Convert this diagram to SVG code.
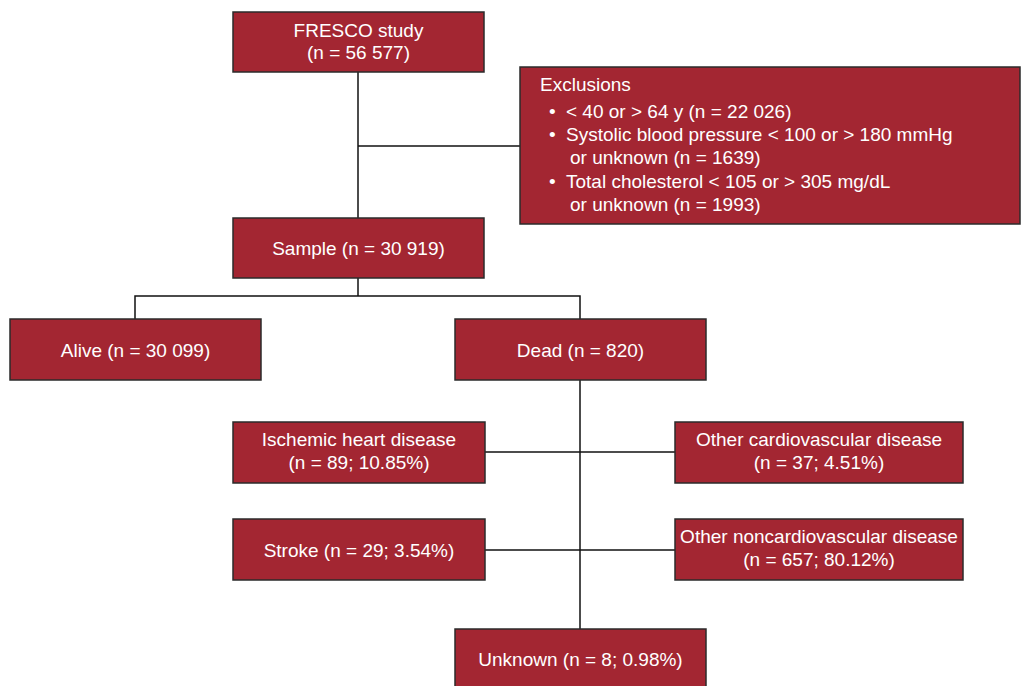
<svg xmlns="http://www.w3.org/2000/svg" width="1022" height="686" viewBox="0 0 1022 686">
<style>
.box{fill:#A32632;stroke:#2b2b2b;stroke-width:1.5}
.t{font-family:"Liberation Sans",Arial,sans-serif;font-size:19px;fill:#ffffff}
.c{text-anchor:middle}
.ln{stroke:#111;stroke-width:1.5;fill:none}
</style>
<rect width="1022" height="686" fill="#ffffff"/>
<g id="connectors">
<path class="ln" d="M358 72 V218"/>
<path class="ln" d="M358 146 H520"/>
<path class="ln" d="M358 278 V296"/>
<path class="ln" d="M135 319 V296 H580 V319"/>
<path class="ln" d="M580 380 V629"/>
<path class="ln" d="M485 452 H675"/>
<path class="ln" d="M485 550 H675"/>
</g>
<g id="fresco">
<rect class="box" x="233" y="12" width="251" height="60"/>
<text class="t c" x="358.5" y="37">FRESCO study</text>
<text class="t c" x="358.5" y="59">(n = 56 577)</text>
</g>
<g id="exclusions">
<rect class="box" x="520" y="67" width="500" height="157"/>
<text class="t" x="540" y="91">Exclusions</text>
<text class="t" x="549" y="118">•</text>
<text class="t" x="566" y="118">&lt; 40 or &gt; 64 y (n = 22 026)</text>
<text class="t" x="549" y="141">•</text>
<text class="t" x="566" y="141">Systolic blood pressure &lt; 100 or &gt; 180 mmHg</text>
<text class="t" x="570" y="164">or unknown (n = 1639)</text>
<text class="t" x="549" y="188">•</text>
<text class="t" x="566" y="188">Total cholesterol &lt; 105 or &gt; 305 mg/dL</text>
<text class="t" x="570" y="211">or unknown (n = 1993)</text>
</g>
<g id="sample">
<rect class="box" x="233" y="218" width="251" height="60"/>
<text class="t c" x="358.5" y="255">Sample (n = 30 919)</text>
</g>
<g id="alive">
<rect class="box" x="10" y="319" width="251" height="61"/>
<text class="t c" x="135.5" y="356.5">Alive (n = 30 099)</text>
</g>
<g id="dead">
<rect class="box" x="455" y="319" width="251" height="61"/>
<text class="t c" x="580.5" y="356.5">Dead (n = 820)</text>
</g>
<g id="ischemic">
<rect class="box" x="233" y="422" width="252" height="61"/>
<text class="t c" x="359" y="446">Ischemic heart disease</text>
<text class="t c" x="359" y="469">(n = 89; 10.85%)</text>
</g>
<g id="othercv">
<rect class="box" x="675" y="422" width="288" height="61"/>
<text class="t c" x="819" y="446">Other cardiovascular disease</text>
<text class="t c" x="819" y="469">(n = 37; 4.51%)</text>
</g>
<g id="stroke">
<rect class="box" x="233" y="519" width="252" height="61"/>
<text class="t c" x="359" y="557">Stroke (n = 29; 3.54%)</text>
</g>
<g id="othernoncv">
<rect class="box" x="675" y="519" width="288" height="61"/>
<text class="t c" x="819" y="543">Other noncardiovascular disease</text>
<text class="t c" x="819" y="566">(n = 657; 80.12%)</text>
</g>
<g id="unknown">
<rect class="box" x="455" y="629" width="251" height="62"/>
<text class="t c" x="580.5" y="666">Unknown (n = 8; 0.98%)</text>
</g>
</svg>
